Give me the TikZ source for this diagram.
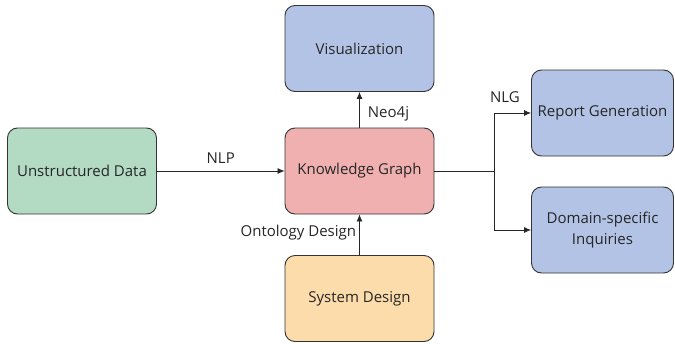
\documentclass[tikz,border=0pt]{standalone}
\usepackage{fontspec}
\setmainfont{Open Sans}
\usetikzlibrary{arrows.meta}
\definecolor{fillgreen}{HTML}{B3DBC3}
\definecolor{fillpink}{HTML}{F0B0B0}
\definecolor{fillblue}{HTML}{B3C3E5}
\definecolor{fillorange}{HTML}{FCDCAA}
\definecolor{edgegray}{HTML}{333333}
\tikzset{
  box/.style={draw=edgegray, line width=0.9pt, rounded corners=10pt,
    minimum width=149pt, minimum height=86pt, align=center,
    font=\fontsize{15pt}{21pt}\selectfont, text=black!85},
  link/.style={draw=black!85, line width=0.8pt, -{Latex[length=7pt,width=6pt]}},
  lbl/.style={font=\fontsize{15pt}{18pt}\selectfont, text=black!85, inner sep=0pt}
}
\begin{document}
\begin{tikzpicture}[x=1pt,y=-1pt]
  \useasboundingbox (0,0) rectangle (675,343);
  \node[box, fill=fillgreen]  (ud)  at (82,171)   {Unstructured Data};
  \node[box, fill=fillpink]   (kg)  at (359.5,171) {Knowledge Graph};
  \node[box, fill=fillblue]   (vis) at (359.5,48.5) {Visualization};
  \node[box, fill=fillorange] (sd)  at (359.5,298.5) {System Design};
  \node[box, fill=fillblue, minimum width=142pt] (rg) at (602.5,113) {Report Generation};
  \node[box, fill=fillblue, minimum width=142pt] (dq) at (602.5,230) {Domain-specific\\Inquiries};
  \coordinate (split) at (494,171);

  \draw[link] (ud) -- node[lbl, above=7pt] {NLP} (kg);
  \draw[link] (kg) -- node[lbl, right=8pt, pos=0.4] {Neo4j} (vis);
  \draw[link] (sd) -- node[lbl, left=3pt, pos=0.55] {Ontology Design} (kg);
  \draw[draw=black!85, line width=0.8pt] (kg.east) -- (split);
  \draw[link] (split) |- (rg.west);
  \draw[link] (split) |- (dq.west);
  \node[lbl] (nlg) at (505,97) {NLG};
\end{tikzpicture}
\end{document}
